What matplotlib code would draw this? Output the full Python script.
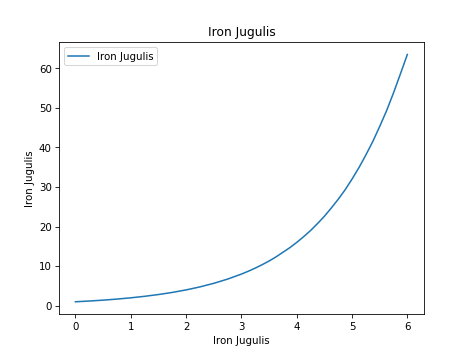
import matplotlib
matplotlib.use("Agg")
import matplotlib.pyplot as plt

# values
x = [0, 0.25, 0.5, 0.75, 1, 1.25, 1.5, 1.75, 2, 2.25, 2.5, 2.75, 3,
     3.125, 3.25, 3.375, 3.5, 3.625, 3.75, 3.875, 4,
     4.125, 4.25, 4.375, 4.5, 4.625, 4.75, 4.875, 5,
     5.125, 5.25, 5.375, 5.5, 5.625, 5.75, 5.875, 6]
y = [1.0, 1.19, 1.41, 1.68, 2.0, 2.38, 2.83, 3.36, 4.0, 4.76, 5.66, 6.73, 8.0,
     8.72, 9.51, 10.37, 11.3, 12.34, 13.5, 14.67, 16.0,
     17.45, 19.0, 20.75, 22.6, 24.7, 26.9, 29.3, 32.0,
     34.9, 38.1, 41.5, 45.3, 49.3, 53.8, 58.6, 63.5]

fig = plt.figure(figsize=(6.4, 4.8), dpi=73.6)
plt.plot(x, y, label="Iron Jugulis")
plt.title("Iron Jugulis")
plt.xlabel("Iron Jugulis")
plt.ylabel("Iron Jugulis")
plt.legend(loc="upper left")
plt.savefig("out.png", dpi=73.6)
